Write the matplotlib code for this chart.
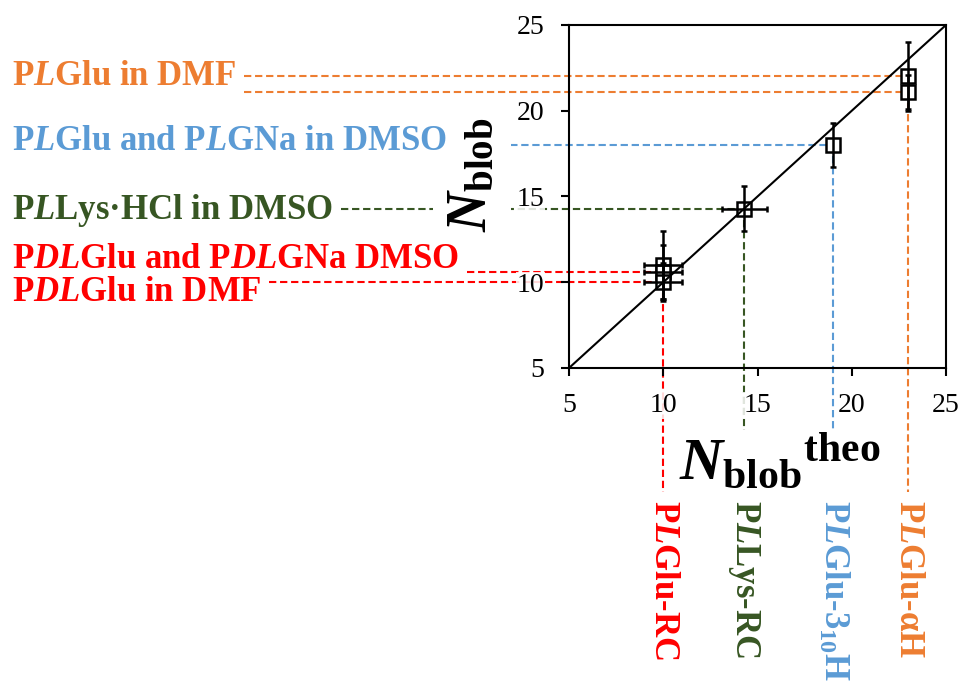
import numpy as np
import matplotlib
matplotlib.use('Agg')
import matplotlib.pyplot as plt

plt.rcParams['font.family'] = ['Liberation Serif', 'DejaVu Serif']
plt.rcParams['mathtext.fontset'] = 'custom'
plt.rcParams['mathtext.rm'] = 'Liberation Serif:bold'
plt.rcParams['mathtext.it'] = 'Liberation Serif:italic:bold'
plt.rcParams['mathtext.bf'] = 'Liberation Serif:bold'

ORANGE = '#ED7D31'
BLUE = '#5B9BD5'
GREEN = '#375623'
RED = '#FF0000'

# blob size: theory vs measured
n_theo = [10, 10, 10, 14.3, 19, 23, 23]
n_blob = [11.0, 10.6, 10.0, 14.3, 18.0, 22.0, 21.1]
n_blob_err = [2.0, 1.6, 1.1, 1.3, 1.3, 2.0, 1.0]
n_theo_err = [1.0, 1.0, 1.0, 1.2, 0, 0, 0]

# samples (left side), each tied to one or more points
left_labels = ['P$L$Glu in DMF',
               'P$L$Glu and P$L$GNa in DMSO',
               'P$L$Lys\u00b7HCl in DMSO',
               'P$DL$Glu and P$DL$GNa DMSO',
               'P$DL$Glu in DMF']
left_label_y = [22.0, 18.2, 14.2, 11.35, 9.4]
left_points = [[5, 6], [4], [3], [1], [2]]
left_colors = [ORANGE, BLUE, GREEN, RED, RED]

# conformations (bottom side)
bottom_labels = ['P$L$Glu-RC', 'P$L$Lys-RC',
                 'P$L$Glu-$\\mathrm{3}_{10}$H', 'P$L$Glu-\u03b1H']
bottom_points = [2, 3, 4, 6]
bottom_colors = [RED, GREEN, BLUE, ORANGE]

ticks = [5, 10, 15, 20, 25]
lims = [5, 25]

fig = plt.figure(figsize=(9.63, 6.88), dpi=100)
ax = fig.add_axes([569 / 963, 1 - 368 / 688, 377 / 963, 343 / 688])

ax.plot(lims, lims, color='black', lw=1.5, zorder=5)

n_theo = np.array(n_theo)
n_blob = np.array(n_blob)
n_theo_err = np.array(n_theo_err)
ax.errorbar(n_theo, n_blob, yerr=n_blob_err, fmt='none', ecolor='black',
            elinewidth=1.8, capsize=2.5, capthick=1.8, zorder=4)
has_xerr = n_theo_err > 0
ax.errorbar(n_theo[has_xerr], n_blob[has_xerr], xerr=n_theo_err[has_xerr],
            fmt='none', ecolor='black', elinewidth=1.8, capsize=2.5,
            capthick=1.8, zorder=4)
ax.plot(n_theo, n_blob, 's', ms=10, mfc='white', mec='black', mew=1.8,
        zorder=3)

ax.set_xlim(lims)
ax.set_ylim(lims)
ax.set_xticks(ticks)
ax.set_yticks(ticks)
ax.tick_params(direction='out', length=6, width=1.5, labelsize=20, pad=12)
for s in ax.spines.values():
    s.set_linewidth(1.5)
for lab in ax.get_xticklabels() + ax.get_yticklabels():
    lab.set_bbox(dict(facecolor='white', edgecolor='none', alpha=0.85, pad=0.5))

ax.set_xlabel(r'$N_{\mathrm{blob}}{}^{\mathrm{theo}}$', fontsize=43)
ax.set_ylabel(r'$N_{\mathrm{blob}}$', fontsize=40)
ax.xaxis.label.set_va('center')
ax.yaxis.label.set_va('center')
ax.xaxis.set_label_coords(0.56, -0.277)
ax.yaxis.set_label_coords(-0.257, 0.563)
ax.xaxis.label.set_bbox(dict(facecolor='white', edgecolor='none', pad=2))
ax.yaxis.label.set_bbox(dict(facecolor='white', edgecolor='none', pad=9))

left_texts = []
for lab, y, c in zip(left_labels, left_label_y, left_colors):
    yf = ax.transData.transform((0, y))[1] / fig.bbox.height
    t = fig.text(12 / 963, yf, lab, color=c, fontsize=25, fontweight='bold',
                 ha='left', va='center')
    left_texts.append(t)

bottom_texts = []
for lab, i, c in zip(bottom_labels, bottom_points, bottom_colors):
    xf = ax.transData.transform((n_theo[i], 0))[0] / fig.bbox.width
    t = fig.text(xf, 1 - 500 / 688, lab, color=c, fontsize=25,
                 fontweight='bold', rotation=-90, ha='center', va='top')
    bottom_texts.append(t)

fig.canvas.draw()
inv = ax.transData.inverted()
gap = 8

# dashed guides from sample labels to points
for t, idx, c in zip(left_texts, left_points, left_colors):
    bb = t.get_window_extent()
    x0 = inv.transform((bb.x1 + gap, 0))[0]
    for i in idx:
        ax.plot([x0, n_theo[i]], [n_blob[i], n_blob[i]], color=c, lw=1.5,
                dashes=(3.5, 1.8), clip_on=False, zorder=1)

# dashed guides from points down to conformation labels
for t, i, c in zip(bottom_texts, bottom_points, bottom_colors):
    bb = t.get_window_extent()
    y0 = inv.transform((0, bb.y1 + gap))[1]
    ax.plot([n_theo[i], n_theo[i]], [n_blob[i], y0], color=c, lw=1.5,
            dashes=(3.5, 1.8), clip_on=False, zorder=1)

fig.savefig('out.png', dpi=100)
